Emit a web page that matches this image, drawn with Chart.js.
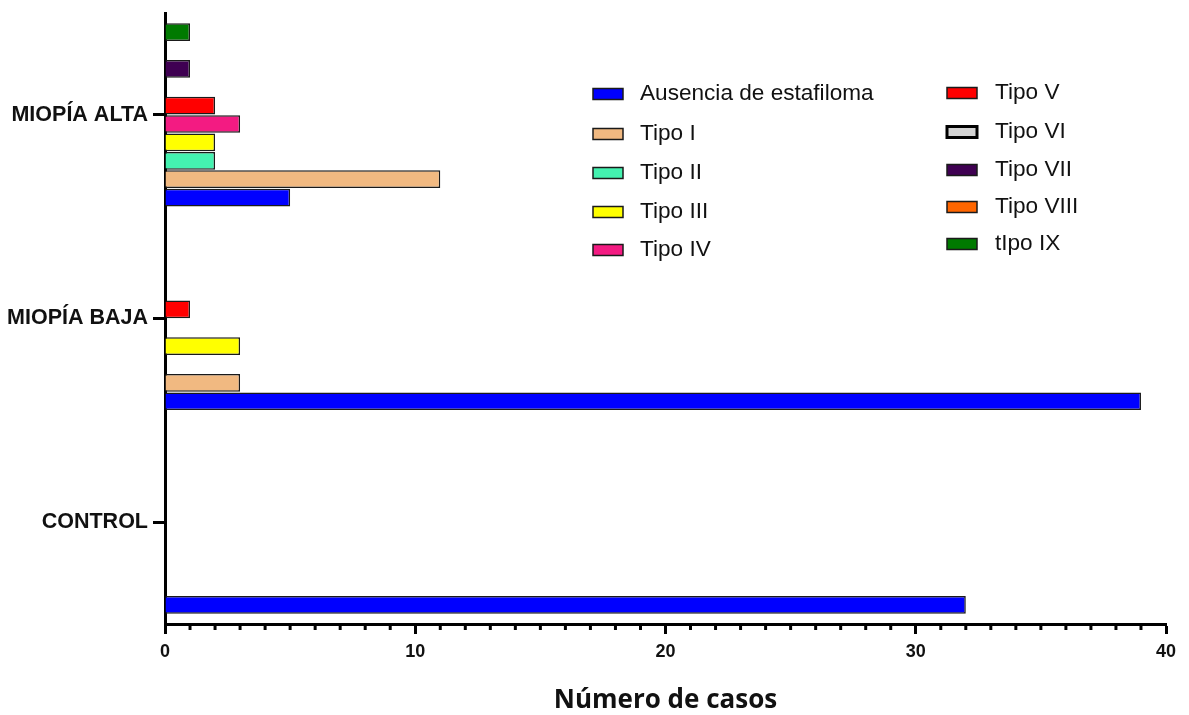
<!DOCTYPE html>
<html>
<head>
<meta charset="utf-8">
<script src="https://cdn.jsdelivr.net/npm/chart.js@4"></script>
<style>
  html, body { margin: 0; padding: 0; background: #fff; }
  #wrap { width: 1189px; height: 715px; }
</style>
</head>
<body>
<div id="wrap"><canvas id="estafilomaChart"></canvas></div>
<script>
// Grupos (de arriba hacia abajo)
const grupos = ['MIOPÍA ALTA', 'MIOPÍA BAJA', 'CONTROL'];

// Número de casos por tipo, en el orden de los grupos
const ausencia = [5, 39, 32];
const tipoI = [11, 3, 0];
const tipoII = [2, 0, 0];
const tipoIII = [2, 3, 0];
const tipoIV = [3, 0, 0];
const tipoV = [2, 1, 0];
const tipoVI = [0, 0, 0];
const tipoVII = [1, 0, 0];
const tipoVIII = [0, 0, 0];
const tipoIX = [1, 0, 0];

const nombres = ['Ausencia de estafiloma', 'Tipo I', 'Tipo II', 'Tipo III', 'Tipo IV',
  'Tipo V', 'Tipo VI', 'Tipo VII', 'Tipo VIII', 'tIpo IX'];
const valores = [ausencia, tipoI, tipoII, tipoIII, tipoIV, tipoV, tipoVI, tipoVII, tipoVIII, tipoIX];
const colores = ['#0000ff', '#f1b981', '#44f2b0', '#ffff00', '#f31b82',
  '#ff0000', '#d3d3d3', '#3f0052', '#ff6600', '#007a00'];

// Ticks de la escala X
const xMin = 0;
const xMax = 40;
const xPaso = 10;

// Ausencia tiene que quedar abajo en cada grupo, por eso se invierte el orden
const datasets = nombres.map((nombre, i) => ({
  label: nombre,
  data: valores[i],
  backgroundColor: colores[i],
  borderColor: '#1a1a1a',
  borderWidth: 1.5,
  inflateAmount: 0
})).reverse();

// Ticks menores (cada 1 caso) en el eje X
const ticksMenores = {
  id: 'ticksMenores',
  afterDraw(chart) {
    const x = chart.scales.x;
    const ctx = chart.ctx;
    ctx.save();
    ctx.strokeStyle = '#000';
    ctx.lineWidth = 3;
    for (let v = xMin; v <= xMax; v++) {
      if (v % xPaso === 0) continue;
      const px = x.getPixelForValue(v);
      ctx.beginPath();
      ctx.moveTo(px, x.top);
      ctx.lineTo(px, x.top + 6);
      ctx.stroke();
    }
    ctx.restore();
  }
};

// Leyenda en dos columnas dentro del área del gráfico
const leyenda = {
  id: 'leyenda',
  afterDraw(chart) {
    const ctx = chart.ctx;
    const columnas = [
      { box: 593, text: 640, ys: [94, 134, 173, 212, 250] },
      { box: 947, text: 995, ys: [93, 132, 170, 207, 244] }
    ];
    ctx.save();
    ctx.font = '22.6px "Liberation Sans", Arial, sans-serif';
    ctx.textBaseline = 'middle';
    ctx.textAlign = 'left';
    nombres.forEach((nombre, i) => {
      const col = columnas[Math.floor(i / 5)];
      const y = col.ys[i % 5];
      const grueso = nombre === 'Tipo VI' ? 3 : 1.5;
      ctx.fillStyle = colores[i];
      ctx.fillRect(col.box, y - 5.5, 30, 11);
      ctx.strokeStyle = nombre === 'Tipo VI' ? '#000' : '#1a1a1a';
      ctx.lineWidth = grueso;
      ctx.strokeRect(col.box, y - 5.5, 30, 11);
      ctx.fillStyle = '#111';
      ctx.fillText(nombre, col.text, y);
    });
    ctx.restore();
  }
};

const ctx = document.getElementById('estafilomaChart').getContext('2d');
new Chart(ctx, {
  type: 'bar',
  data: {
    labels: grupos,
    datasets: datasets
  },
  options: {
    indexAxis: 'y',
    responsive: true,
    maintainAspectRatio: false,
    animation: false,
    categoryPercentage: 0.903,
    barPercentage: 0.96,
    layout: {
      padding: { left: 0, right: 23, top: 13, bottom: 0 }
    },
    plugins: {
      legend: { display: false },
      tooltip: { enabled: false }
    },
    scales: {
      y: {
        grid: {
          offset: false,
          drawOnChartArea: false,
          drawTicks: true,
          tickLength: 12,
          tickWidth: 3,
          tickColor: '#000'
        },
        border: { display: true, width: 3, color: '#000' },
        ticks: {
          padding: 5,
          color: '#111',
          font: { family: '"Liberation Sans", Arial, sans-serif', size: 21.5, weight: 'bold' }
        },
        afterFit(scale) {
          scale.width = 165;
          scale.paddingTop = 0;
          scale.paddingBottom = 0;
        }
      },
      x: {
        min: xMin,
        max: xMax,
        grid: {
          drawOnChartArea: false,
          drawTicks: true,
          tickLength: 10,
          tickWidth: 3,
          tickColor: '#000'
        },
        border: { display: true, width: 3, color: '#000' },
        ticks: {
          stepSize: xPaso,
          padding: 7,
          color: '#111',
          font: { family: '"Liberation Sans", Arial, sans-serif', size: 18, weight: 'bold' }
        },
        title: {
          display: true,
          text: 'Número de casos',
          color: '#111',
          padding: { top: 4, bottom: 0 },
          font: { family: '"Open Sans", sans-serif', size: 26, weight: 'bold', lineHeight: 1.1 }
        },
        afterFit(scale) {
          scale.height = 91;
        }
      }
    }
  },
  plugins: [ticksMenores, leyenda]
});
</script>
</body>
</html>
